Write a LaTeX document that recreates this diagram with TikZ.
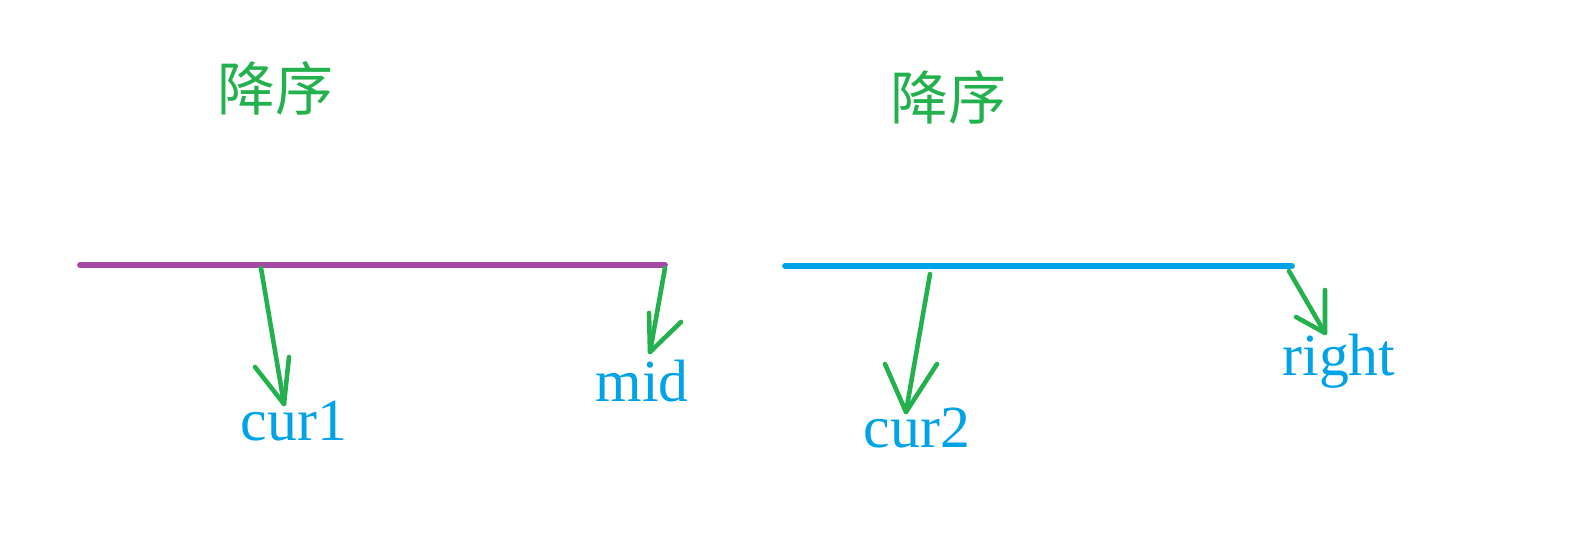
\documentclass[tikz,border=0pt]{standalone}
\usepackage{fontspec}
\setmainfont{Liberation Serif}
\newfontfamily\cjk{Noto Sans CJK SC}
\definecolor{pgreen}{HTML}{22B14C}
\definecolor{pblue}{HTML}{00A2E8}
\definecolor{ppurple}{HTML}{A349A4}
\begin{document}
\begin{tikzpicture}[x=0.02cm,y=-0.02cm,
  title/.style={text=pgreen,font=\cjk\fontsize{33}{36}\selectfont,inner sep=0pt},
  lbl/.style={text=pblue,font=\fontsize{34}{37}\selectfont,inner sep=0pt,anchor=base},
  ptr/.style={draw=pgreen,line width=2.6pt,line cap=round,line join=round},
  seg/.style={line width=3.3pt,line cap=round}]
\useasboundingbox (0,0) rectangle (1569,560);
\node[title] (t1) at (275,88) {降序};
\node[title] (t2) at (948,97) {降序};
% lines
\coordinate (a1) at (80,265);
\coordinate (a2) at (665,265);
\coordinate (b1) at (785,266);
\coordinate (b2) at (1292,266);
\draw[seg,draw=ppurple] (a1) -- (a2);
\draw[seg,draw=pblue] (b1) -- (b2);
% labels
\node[lbl] (cur1) at (294,440) {cur1};
\node[lbl] (mid) at (642,402) {mid};
\node[lbl] (cur2) at (917,448) {cur2};
\node[lbl] (right) at (1339,376) {right};
% arrows: start, tip, barbs
\coordinate (s1) at (261,268); \coordinate (p1) at (284,404);
\coordinate (l1) at (255,367); \coordinate (r1) at (289,357);
\coordinate (s2) at (665,268); \coordinate (p2) at (650,352);
\coordinate (l2) at (649,313); \coordinate (r2) at (681,322);
\coordinate (s3) at (930,274); \coordinate (p3) at (906,412);
\coordinate (l3) at (885,364); \coordinate (r3) at (937,364);
\coordinate (s4) at (1289,271); \coordinate (p4) at (1325,333);
\coordinate (l4) at (1296,317); \coordinate (r4) at (1325,290);
\foreach \i in {1,2,3,4}{
  \draw[ptr] (s\i) -- (p\i);
  \draw[ptr] (l\i) -- (p\i) -- (r\i);
}
\end{tikzpicture}
\end{document}
